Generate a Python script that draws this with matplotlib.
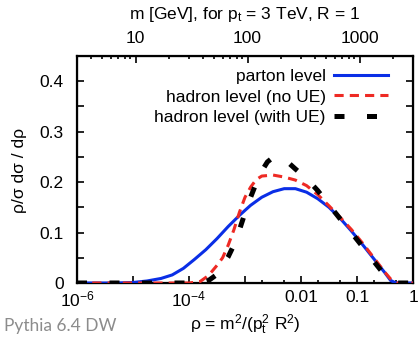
import numpy as np
import matplotlib
matplotlib.use("Agg")
import matplotlib.pyplot as plt
from matplotlib.ticker import FixedLocator, FixedFormatter, NullFormatter

plt.rcParams['font.family'] = ['Liberation Sans', 'DejaVu Sans']
plt.rcParams['mathtext.fontset'] = 'custom'
plt.rcParams['mathtext.rm'] = 'Liberation Sans'
plt.rcParams['mathtext.it'] = 'Liberation Sans'

# log10(rho) sample points and curve values
lg_parton = [-6, -5.3, -5.0, -4.75, -4.5, -4.3, -4.1, -3.9, -3.7, -3.5, -3.3, -3.1, -2.9, -2.7,
             -2.5, -2.3, -2.1, -1.9, -1.7, -1.5, -1.3, -1.1, -0.9, -0.7, -0.5, -0.4, -0.3, 0]
v_parton = [0, 0.0, 0.001, 0.004, 0.009, 0.016, 0.029, 0.047, 0.066, 0.088, 0.112, 0.134, 0.154, 0.170,
            0.181, 0.187, 0.187, 0.180, 0.167, 0.150, 0.128, 0.103, 0.076, 0.048, 0.020, 0.005, 0, 0]

lg_had = [-6, -4.0, -3.8, -3.65, -3.5, -3.4, -3.3, -3.2, -3.1, -3.0, -2.9, -2.8, -2.7, -2.5, -2.3,
          -2.1, -1.9, -1.7, -1.5, -1.3, -1.1, -0.9, -0.7, -0.5, -0.4, -0.3, 0]
v_had = [0, 0, 0.003, 0.015, 0.035, 0.05, 0.075, 0.105, 0.14, 0.17, 0.19, 0.205, 0.212, 0.214, 0.21,
         0.204, 0.193, 0.175, 0.153, 0.130, 0.106, 0.079, 0.05, 0.021, 0.008, 0, 0]

lg_ue = [-6, -3.8, -3.65, -3.5, -3.4, -3.3, -3.2, -3.1, -3.0, -2.9, -2.8, -2.7, -2.6, -2.5, -2.4, -2.3,
         -2.2, -2.1, -1.9, -1.7, -1.5, -1.3, -1.1, -0.9, -0.7, -0.5, -0.4, -0.3, 0]
v_ue = [0, 0.0, 0.005, 0.017, 0.035, 0.052, 0.075, 0.105, 0.139, 0.17, 0.198, 0.222, 0.240, 0.249, 0.25, 0.245,
        0.236, 0.226, 0.207, 0.183, 0.155, 0.127, 0.100, 0.072, 0.043, 0.015, 0.004, 0, 0]

labels = ['parton level', 'hadron level (no UE)', 'hadron level (with UE)']
xtick_vals = [1e-6, 1e-5, 1e-4, 1e-3, 1e-2, 1e-1, 1]
xtick_labels = [r'10$^{-6}$', '', r'10$^{-4}$', '', '0.01', '0.1', '1']
mtick_vals = [10, 100, 1000]
mtick_labels = ['10', '100', '1000']

FS = 12.5
W, H = 420, 343
fig = plt.figure(figsize=(W / 100, H / 100), dpi=100)
L, R, T, B = 77, 413, 56, 283
ax = fig.add_axes([L / W, 1 - B / H, (R - L) / W, (B - T) / H])

ax.plot(10 ** np.array(lg_parton), v_parton, color='#0a2ee6', lw=2.2, label=labels[0], zorder=3)
ax.plot(10 ** np.array(lg_had), v_had, color='#ee2a24', lw=2.2, dashes=(3, 2), label=labels[1], zorder=4)
ax.plot(10 ** np.array(lg_ue), v_ue, color='black', lw=3.6, dashes=(2, 4.5), label=labels[2], zorder=5)

ax.set_xscale('log')
ax.set_xlim(1e-6, 1)
ax.set_ylim(0, 0.45)

ax.xaxis.set_major_locator(FixedLocator(xtick_vals))
ax.xaxis.set_major_formatter(FixedFormatter(xtick_labels))
minors = [m * d for d in [1e-3, 1e-2, 1e-1] for m in (2, 5)]
ax.xaxis.set_minor_locator(FixedLocator(minors))
ax.xaxis.set_minor_formatter(NullFormatter())

ax.set_yticks(np.arange(0, 0.451, 0.05))
ax.set_yticklabels(['0' if i == 0 else ('%.1f' % (i * 0.05) if i % 2 == 0 else '') for i in range(10)])

ax.tick_params(axis='both', which='major', direction='in', length=5, width=1.2, labelsize=FS)
ax.tick_params(axis='y', which='major', pad=9.5)
ax.tick_params(axis='x', which='major', pad=5)
ax.tick_params(axis='x', which='minor', direction='in', length=2.5, width=1.2)
ax.tick_params(axis='y', right=True, which='both')
for s in ax.spines.values():
    s.set_linewidth(1.6)

ax2 = ax.twiny()
ax2.set_xscale('log')
ax2.set_xlim(3000 * np.sqrt(1e-6), 3000)
ax2.xaxis.set_major_locator(FixedLocator(mtick_vals))
ax2.xaxis.set_major_formatter(FixedFormatter(mtick_labels))
ax2.xaxis.set_minor_locator(FixedLocator([m * d for d in [1, 10, 100, 1000] for m in range(2, 10)
                                           if 3 < m * d < 3000]))
ax2.xaxis.set_minor_formatter(NullFormatter())
ax2.tick_params(axis='x', which='major', direction='in', length=5, width=1.2, labelsize=FS, pad=7.5)
ax2.tick_params(axis='x', which='minor', direction='in', length=2.5, width=1.2)

leg = ax.legend(loc='upper right', bbox_to_anchor=((388 - L) / (R - L), (B - 69) / (B - T)),
                frameon=False, markerfirst=False, fontsize=FS, handlelength=3.1,
                handletextpad=0.5, labelspacing=0.3, borderpad=0, borderaxespad=0)

fig.text(245 / W, 1 - 14 / H, r'm [GeV], for p$_\mathregular{t}$ = 3 TeV, R = 1', ha='center', va='center', fontsize=FS)
fig.text(245 / W, 1 - 325 / H, r'ρ = m$^2$/(p$_t^2$ R$^2$)', ha='center', va='center', fontsize=FS)
fig.text(20 / W, 1 - 170 / H, 'ρ/σ dσ / dρ', ha='center', va='center', rotation=90, fontsize=FS)
fig.text(4 / W, 1 - 326 / H, 'Pythia 6.4 DW', ha='left', va='center', fontsize=12.5,
         color='#8c8c8c', family=['Lato', 'DejaVu Sans'])

fig.savefig('out.png', dpi=100)
